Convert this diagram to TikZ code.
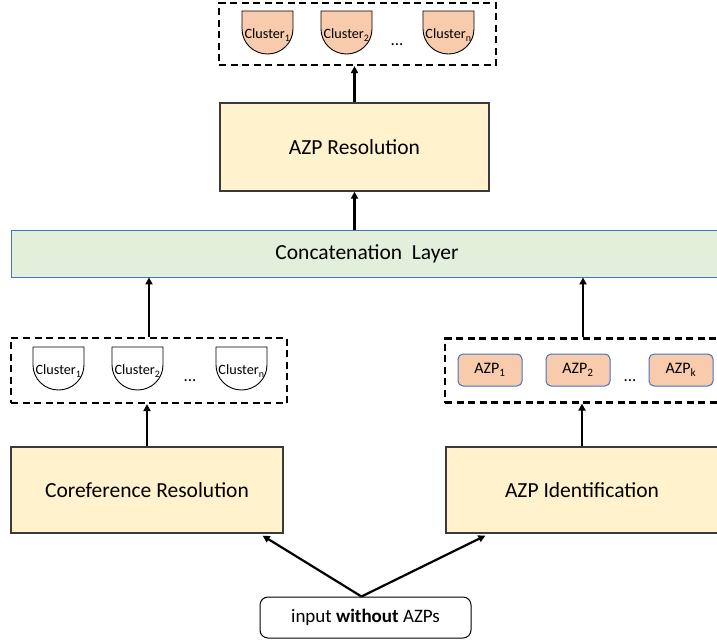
\documentclass[tikz,border=0pt]{standalone}
\usepackage{fontspec}
\setmainfont{Carlito}
\usetikzlibrary{arrows.meta,calc}
\definecolor{orangefill}{HTML}{F8CBAD}
\definecolor{yellowfill}{HTML}{FFF2CC}
\definecolor{greenfill}{HTML}{E2EFDA}
\definecolor{blueline}{HTML}{4472C4}
\definecolor{grayline}{HTML}{3A3A3A}
\newcommand\clusterat[5]{%
  \draw[line width=0.9pt, fill=#3] (#1,#2) -- ++(51,0) -- ++(0,18)
    arc[start angle=0, end angle=180, x radius=25.5, y radius=25] -- cycle;
  \node[smalltext] (#4) at (#1+25.5,#2+24) {Cluster\textsubscript{#5}};
}
\begin{document}
\begin{tikzpicture}[x=1pt,y=-1pt,
  bigbox/.style={draw=grayline, line width=1.3pt, fill=yellowfill, minimum width=272, minimum height=86, font=\fontsize{21.5}{25}\selectfont},
  dashbox/.style={draw, line width=2.2pt, dash pattern=on 7pt off 4.5pt},
  azpbox/.style={draw=blueline, line width=1pt, fill=orangefill, rounded corners=5pt, minimum width=64, minimum height=32, font=\fontsize{16}{18}\selectfont},
  smalltext/.style={font=\fontsize{14.2}{16}\selectfont, inner sep=0pt},
  arr/.style={line width=2.2pt, -{Triangle[length=7pt,width=7pt]}},
  dots/.style={font=\fontsize{17}{19}\selectfont}
]
\useasboundingbox (0,0) rectangle (717,643);

% top output
\node[dashbox, minimum width=277, minimum height=62] (topdash) at (357.5,34) {};
\clusterat{242}{11}{orangefill}{tc1}{1}
\clusterat{321}{11}{orangefill}{tc2}{2}
\clusterat{423}{11}{orangefill}{tcn}{n}
\node[dots] (tdots) at (397,45) {...};

% AZP resolution
\node[bigbox, minimum width=269, minimum height=88] (azpres) at (354.5,147) {AZP Resolution};

% concatenation layer
\node[draw=blueline, line width=0.8pt, fill=greenfill, minimum width=712, minimum height=47, font=\fontsize{21.5}{25}\selectfont] (concat) at (367,253.5) {Concatenation\ \ Layer};

% left dashed box
\node[dashbox, minimum width=276, minimum height=65] (ldash) at (149,370.5) {};
\clusterat{33}{347}{white}{lc1}{1}
\clusterat{112}{347}{white}{lc2}{2}
\clusterat{216}{347}{white}{lcn}{n}
\node[dots] (ldots) at (190,381) {...};

% right dashed box
\node[dashbox, minimum width=276, minimum height=64] (rdash) at (583,370.5) {};
\node[azpbox] (azp1) at (490,370) {AZP\textsubscript{1}};
\node[azpbox] (azp2) at (578,370) {AZP\textsubscript{2}};
\node[azpbox] (azpk) at (681,370) {AZP\textsubscript{k}};
\node[dots] (rdots) at (630,381) {...};

% lower modules
\node[bigbox] (coref) at (147,490) {Coreference Resolution};
\node[bigbox] (azpid) at (582,490) {AZP Identification};

% input
\node[draw, line width=1pt, rounded corners=8pt, minimum width=211, minimum height=41, font=\fontsize{19}{22}\selectfont] (input) at (365.5,617.5) {input \textbf{without} AZPs};

% connectors
\draw[arr] (azpres.north) -- (azpres.north |- topdash.south);
\draw[arr] (azpres.south |- concat.north) -- (azpres.south);
\draw[arr] (ldash.north) -- (ldash.north |- concat.south);
\draw[arr] (rdash.north) -- (rdash.north |- concat.south);
\draw[arr] (coref.north) -- (coref.north |- ldash.south);
\draw[arr] (azpid.north) -- (azpid.north |- rdash.south);
\draw[arr] ($(input.north)+(-4,0)$) -- ($(coref.south east)+(-21,2)$);
\draw[arr] ($(input.north)+(-4,0)$) -- ($(azpid.south west)+(40,2)$);
\end{tikzpicture}
\end{document}
